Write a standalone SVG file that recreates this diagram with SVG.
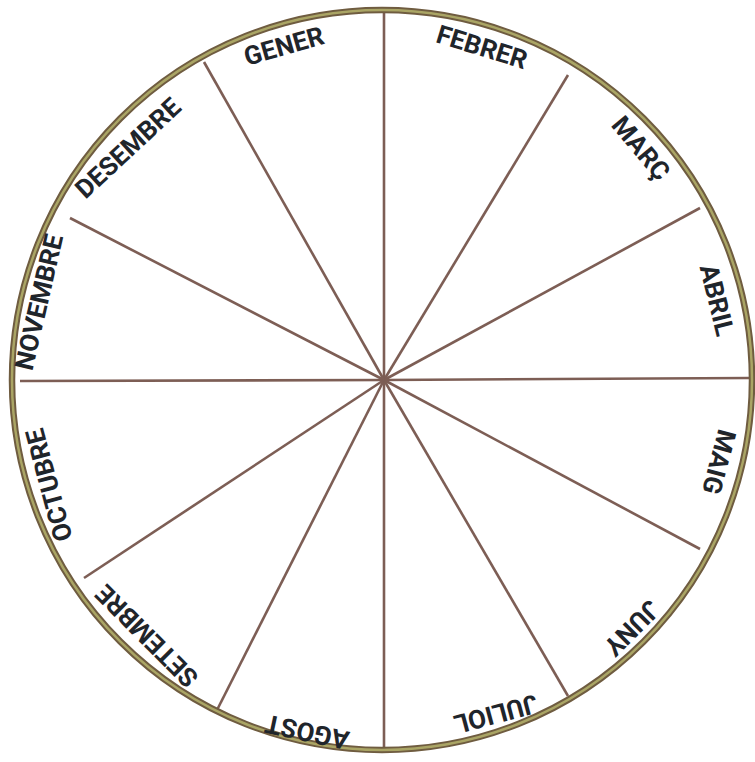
<svg xmlns="http://www.w3.org/2000/svg" width="755" height="762" viewBox="0 0 755 762">
<style>
.ring-out{fill:none;stroke:#6f5c40;stroke-width:6.5}
.ring-in{fill:none;stroke:#aaa565;stroke-width:2.5}
.spoke{stroke:#7d5e55;stroke-width:2.6;stroke-linecap:butt}
.lbl{font-family:Roboto,"DejaVu Sans",sans-serif;font-weight:bold;font-size:26px;fill:#1f252b;text-anchor:middle;dominant-baseline:central}
</style>
<rect width="755" height="762" fill="#ffffff"/>
<g id="connectors">
<line class="spoke" x1="384" y1="380" x2="384" y2="10"/>
<line class="spoke" x1="384" y1="380" x2="568" y2="75"/>
<line class="spoke" x1="384" y1="380" x2="700" y2="208"/>
<line class="spoke" x1="384" y1="380" x2="750" y2="378"/>
<line class="spoke" x1="384" y1="380" x2="700" y2="549"/>
<line class="spoke" x1="384" y1="380" x2="568" y2="696"/>
<line class="spoke" x1="384" y1="380" x2="384" y2="750"/>
<line class="spoke" x1="384" y1="380" x2="216" y2="712"/>
<line class="spoke" x1="384" y1="380" x2="84" y2="578"/>
<line class="spoke" x1="384" y1="380" x2="20" y2="381"/>
<line class="spoke" x1="384" y1="380" x2="70" y2="218"/>
<line class="spoke" x1="384" y1="380" x2="204" y2="62"/>
</g>
<g id="rim">
<circle class="ring-out" cx="382" cy="380" r="370"/>
<circle class="ring-in" cx="382" cy="380" r="370"/>
</g>
<g id="gener"><text class="lbl" transform="translate(284,46) rotate(-16)">GENER</text></g>
<g id="febrer"><text class="lbl" transform="translate(482,47) rotate(17)">FEBRER</text></g>
<g id="marc"><text class="lbl" transform="translate(641,148) rotate(50)">MARÇ</text></g>
<g id="abril"><text class="lbl" transform="translate(717,300) rotate(76)">ABRIL</text></g>
<g id="maig"><text class="lbl" transform="translate(719,462) rotate(105)">MAIG</text></g>
<g id="juny"><text class="lbl" transform="translate(632,628) rotate(135)">JUNY</text></g>
<g id="juliol"><text class="lbl" transform="translate(496,714) rotate(165)">JULIOL</text></g>
<g id="agost"><text class="lbl" transform="translate(307,732) rotate(192)">AGOST</text></g>
<g id="setembre"><text class="lbl" transform="translate(147,636) rotate(225)">SETEMBRE</text></g>
<g id="octubre"><text class="lbl" transform="translate(49,485) rotate(-105)">OCTUBRE</text></g>
<g id="novembre"><text class="lbl" transform="translate(39,302) rotate(-77)">NOVEMBRE</text></g>
<g id="desembre"><text class="lbl" transform="translate(128,148) rotate(-43)">DESEMBRE</text></g>
</svg>
